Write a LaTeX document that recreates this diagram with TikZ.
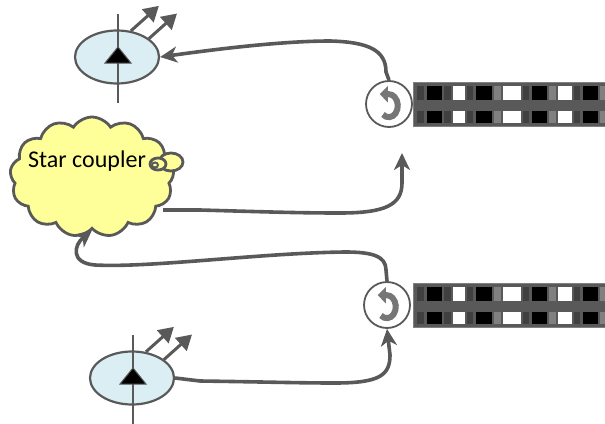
\documentclass[tikz,border=0pt]{standalone}
\usepackage{fontspec}
\setmainfont{Carlito}
\usepackage{tikz}
\usetikzlibrary{arrows.meta,shapes.geometric,shapes.symbols}
\definecolor{linegray}{HTML}{595959}
\definecolor{symgray}{HTML}{767676}
\definecolor{rxblue}{HTML}{DAEEF3}
\definecolor{cloudyellow}{HTML}{FFFF99}
\definecolor{slotdark}{HTML}{404040}
\definecolor{slotgray}{HTML}{808080}
\tikzset{>/.tip={Stealth[length=17pt,width=16pt,inset=5pt]}}

\begin{document}
\begin{tikzpicture}[x=1pt,y=-1pt,
  conn/.style={draw=linegray,line width=3.6pt,->},
  sig/.style={draw=linegray,line width=3pt,-{Triangle[length=15pt,width=17pt]}},
  antenna/.style={ellipse,draw=linegray,fill=rxblue,line width=2.2pt,
    minimum width=84pt,minimum height=53pt,inner sep=0pt},
  rotor/.style={circle,draw=linegray,fill=white,line width=1.8pt,
    minimum size=46pt,inner sep=0pt},
  buffer/.style={rectangle,fill=linegray,draw=slotgray,line width=0.6pt,
    minimum width=192pt,minimum height=44pt,inner sep=0pt,anchor=north west}]
\useasboundingbox (0,0) rectangle (605,423);

% star coupler
\node[cloud,cloud puffs=13,cloud puff arc=115,aspect=1.4,draw=linegray,
  fill=cloudyellow,line width=2.8pt,minimum width=164pt,minimum height=120pt,
  inner sep=0pt] (coupler) at (92,177) {};
\draw[draw=linegray,fill=cloudyellow,line width=2.8pt] (171,162) ellipse [x radius=12,y radius=9];
\draw[draw=linegray,fill=cloudyellow,line width=2.8pt] (158,164) ellipse [x radius=8,y radius=6];
\draw[draw=linegray,line width=2pt] (155,165) ellipse [x radius=3,y radius=2.5];
\node[anchor=base west,font=\fontsize{24}{28}\selectfont,inner sep=0pt] (label) at (28,167) {Star coupler};

% transmitters
\node[antenna] (tx1) at (117,57) {};
\node[antenna] (tx2) at (132,378) {};
\foreach \t in {tx1,tx2}
{
  \draw[draw=linegray,line width=2.2pt] ([shift={(1,-43)}]\t.center) -- ([shift={(1,46)}]\t.center);
  \fill[black,draw=linegray,line width=1pt] ([shift={(1,-10)}]\t.center)
    -- ([shift={(-12,6)}]\t.center) -- ([shift={(14,6)}]\t.center) -- cycle;
  \draw[sig] (\t.62) -- ++(28,-25);
  \draw[sig] (\t.30) -- ++(28,-25);
}

% delay line buffers
\node[rotor] (rot1) at (389,104) {};
\node[rotor] (rot2) at (387,305) {};
\node[buffer] (buf1) at (413,82) {};
\node[buffer] (buf2) at (413,283) {};
\foreach \r in {rot1,rot2}
{
  \draw[draw=symgray,line width=6pt,-{Triangle[length=8pt,width=16pt]}]
    ([shift={(-6,10.5)}]\r.center) arc[start angle=130,end angle=-90,x radius=9,y radius=11.5]
    -- ++(-9,0);
}
\foreach \b in {buf1,buf2}
{
  \foreach \dx/\w/\c in {4/7/slotdark,14/15/black,31/7/slotdark,40/12/white,
    54/6/slotdark,63/16/black,81/7/slotgray,90/18/white,110/6/slotdark,
    119/15/black,136/7/slotgray,145/14/white,161/6/slotdark,170/15/black,187/5/slotgray}
  {
    \fill[\c] ([shift={(\dx,4)}]\b.north west) rectangle ++(\w,14);
    \fill[\c] ([shift={(\dx,29)}]\b.north west) rectangle ++(\w,12);
  }
}

\coordinate (couplerout) at (163,210);
\coordinate (rot1in) at (402,153);

\draw[conn] (rot1.north) -- (386,72) .. controls (386,50) and (368,42) .. (330,41)
  .. controls (280,41) and (210,50) .. (tx1.east);
\draw[conn] (couplerout) -- (200,210) .. controls (270,212) and (300,213) .. (340,213)
  .. controls (385,213) and (402,205) .. (402,183) -- (rot1in);
\draw[conn] (rot2.north) -- (386,270) .. controls (386,256) and (372,252) .. (345,252)
  .. controls (260,253) and (150,268) .. (95,265)
  .. controls (70,263) and (74,245) .. (coupler.south);
\draw[conn] (tx2.east) -- (200,381) .. controls (270,382) and (300,383) .. (335,383)
  .. controls (380,383) and (390,375) .. (390,355) -- (rot2.south);
\end{tikzpicture}
\end{document}
